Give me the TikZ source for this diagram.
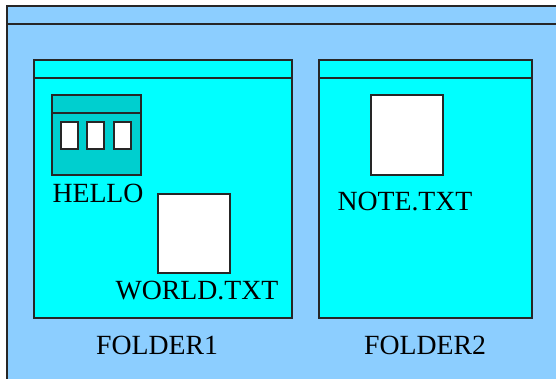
\documentclass[tikz,border=0pt]{standalone}
\usepackage{fontspec}
\setmainfont{Liberation Serif}
\definecolor{desk}{HTML}{8CCEFF}
\definecolor{folderfill}{HTML}{00FFFF}
\definecolor{appfill}{HTML}{00CFCF}
\tikzset{
    pane/.style={draw=black!85, line width=0.65pt},
    filetext/.style={inner sep=0pt, font=\fontsize{15.8pt}{18pt}\selectfont},
}

\begin{document}
\begin{tikzpicture}[x=0.02cm, y=-0.02cm]
        \useasboundingbox (0,0) rectangle (556,379);

        % desktop
        \fill[white] (0,0) rectangle (556,379);
        \fill[desk] (7,6) rectangle (556,379);
        \draw[pane] (556,6) -- (7,6) -- (7,379);
        \draw[pane] (7,24) -- (556,24);

        % folder windows
        \draw[pane, fill=folderfill] (34,60) rectangle (292,318);
        \draw[pane] (34,78) -- (292,78);
        \draw[pane, fill=folderfill] (319,60) rectangle (532,318);
        \draw[pane] (319,78) -- (532,78);

        % program icon
        \draw[pane, fill=appfill] (52,95) rectangle (141,175);
        \draw[pane] (52,113) -- (141,113);
        \foreach \x in {61,87,114} {
            \draw[pane, fill=white] (\x,122) rectangle +(17,27);
        }

        % text files
        \draw[pane, fill=white] (158,194) rectangle (230,273);
        \draw[pane, fill=white] (371,95) rectangle (443,175);

        \node[filetext] (hello) at (98,193) {HELLO};
        \node[filetext] (world) at (197,291) {WORLD.TXT};
        \node[filetext] (note) at (405,202) {NOTE.TXT};
        \node[filetext] (folder1) at (157,345) {FOLDER1};
        \node[filetext] (folder2) at (425,345) {FOLDER2};
    \end{tikzpicture}
\end{document}
